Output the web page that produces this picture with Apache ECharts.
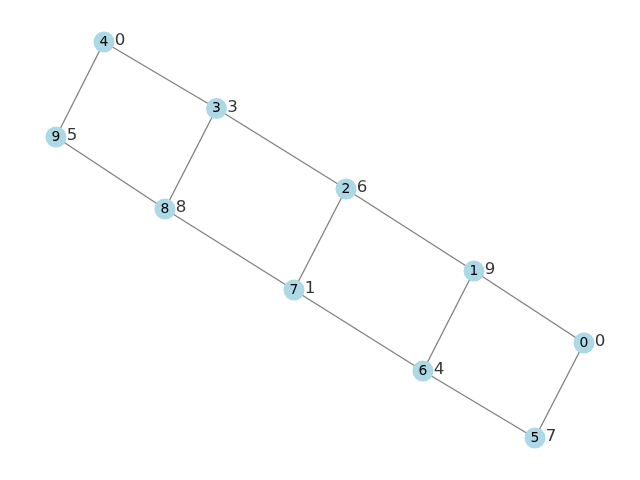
<!DOCTYPE html>
<html>
<head>
<meta charset="utf-8">
<script src="https://cdn.jsdelivr.net/npm/echarts@6/dist/echarts.min.js"></script>
<style>html,body{margin:0;padding:0;background:#fff;}#c{width:640px;height:480px;}</style>
</head>
<body>
<div id="c"></div>
<script>
const nodeIds = ['0','1','2','3','4','5','6','7','8','9'];
const nodeX = [584, 474, 346, 216.5, 104, 535, 423, 294, 165, 56];
const nodeY = [343, 271, 189, 108.5, 42, 438, 371, 290, 209, 137];
const nodeValues = [0, 9, 6, 3, 0, 7, 4, 1, 8, 5];
const edges = [[0,1],[1,2],[2,3],[3,4],[5,6],[6,7],[7,8],[8,9],[0,5],[1,6],[2,7],[3,8],[4,9]];

const chart = echarts.init(document.getElementById('c'));
const font = 'DejaVu Sans';
chart.setOption({
  animation: false,
  backgroundColor: '#ffffff',
  grid: {left: 0, right: 0, top: 0, bottom: 0},
  xAxis: {type: 'value', min: 0, max: 640, show: false},
  yAxis: {type: 'value', min: 0, max: 480, inverse: true, show: false},
  series: [
    {
      type: 'graph',
      coordinateSystem: 'cartesian2d',
      symbol: 'circle',
      symbolSize: 21,
      z: 2,
      itemStyle: {color: '#add8e6'},
      lineStyle: {color: '#808080', width: 1.3, opacity: 1},
      label: {show: true, position: 'inside', color: '#000000', fontFamily: font, fontSize: 13.9,
              formatter: p => p.name},
      emphasis: {disabled: true},
      data: nodeIds.map((id, i) => ({name: id, value: [nodeX[i], nodeY[i]]})),
      links: edges.map(e => ({source: nodeIds[e[0]], target: nodeIds[e[1]]}))
    },
    {
      type: 'scatter',
      symbolSize: 1,
      z: 3,
      itemStyle: {color: 'rgba(0,0,0,0)'},
      label: {show: true, position: 'inside', offset: [16, -1], color: '#000000', fontFamily: font, fontSize: 16.7,
              formatter: p => String(p.value[2])},
      emphasis: {disabled: true},
      data: nodeIds.map((id, i) => [nodeX[i], nodeY[i], nodeValues[i]])
    }
  ]
});
</script>
</body>
</html>
